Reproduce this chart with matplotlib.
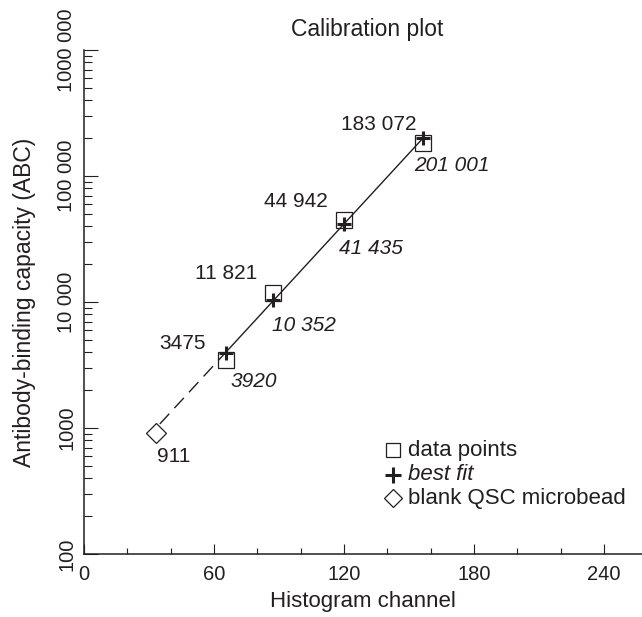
import numpy as np
import matplotlib.pyplot as plt
from matplotlib.ticker import FixedLocator, MultipleLocator, NullFormatter

# values
channels = [65.3, 87.2, 120.0, 156.6]
abc_data = [3475, 11821, 44942, 183072]
abc_fit = [3920, 10352, 41435, 201001]
blank_channel = 33.2
blank_abc = 911

x_ticks = [0, 60, 120, 180, 240]
y_ticks = [100, 1000, 10000, 100000, 1000000]
y_tick_labels = ["100", "1000", "10 000", "100 000", "1000 000"]

# label offsets in pixels (dx, dy) relative to their markers
data_offsets = [(-20, 10.7), (-16, 14), (-16, 12.7), (-7, 12.7)]
fit_offsets = [(5, -34), (-1, -31.3), (-5, -30), (-9, -33.4)]
blank_offset = (1, -28.7)

INK = "#231f20"
FONT = "Liberation Sans"
PX = 0.72  # points per pixel at dpi 100

plt.rcParams["font.family"] = [FONT, "DejaVu Sans"]
plt.rcParams["text.color"] = INK


def fmt(v):
    if v >= 10000:
        return f"{v:,}".replace(",", " ")
    return str(v)


fig = plt.figure(figsize=(6.42, 6.17), dpi=100)
ax = fig.add_axes([84 / 642, 63 / 617, 558 / 642, 504 / 617])
ax.set_yscale("log")
ax.set_xlim(0, 257.5)
ax.set_ylim(100, 1000000)

# best-fit line through the fitted values, dashed extension to the blank
coef = np.polyfit(channels, np.log10(abc_fit), 1)
xs = np.array([channels[0], channels[-1]])
ax.plot(xs, 10 ** np.polyval(coef, xs), color=INK, lw=1.0, zorder=2)
xd = np.array([blank_channel + 1.8, channels[0]])
ax.plot(xd, 10 ** np.polyval(coef, xd), color=INK, lw=1.0,
        dashes=(10, 5.5), zorder=2)

ax.plot(channels, abc_data, "s", ms=11.5, mfc="none", mec=INK, mew=0.9, zorder=3)
ax.plot(channels, abc_fit, "+", ms=10.5, mec=INK, mew=2.2, zorder=4)
ax.plot([blank_channel], [blank_abc], "D", ms=10, mfc="none", mec=INK, mew=0.9, zorder=3)

for x, v, (dx, dy) in zip(channels, abc_data, data_offsets):
    ax.annotate(fmt(v), (x, v), xytext=(dx * PX, dy * PX), textcoords="offset points",
                ha="right", va="baseline", fontsize=15)
for x, v, (dx, dy) in zip(channels, abc_fit, fit_offsets):
    ax.annotate(fmt(v), (x, v), xytext=(dx * PX, dy * PX), textcoords="offset points",
                ha="left", va="baseline", fontsize=15, style="italic")
ax.annotate(fmt(blank_abc), (blank_channel, blank_abc),
            xytext=(blank_offset[0] * PX, blank_offset[1] * PX),
            textcoords="offset points", ha="left", va="baseline", fontsize=15)

# legend drawn by hand
lx, tx = 0.553, 0.581
ax.plot([lx], [0.206], "s", ms=10.5, mfc="none", mec=INK, mew=0.9, transform=ax.transAxes)
ax.plot([lx], [0.157], "+", ms=11, mec=INK, mew=2.2, transform=ax.transAxes)
ax.plot([lx], [0.111], "D", ms=9.5, mfc="none", mec=INK, mew=0.9, transform=ax.transAxes)
ax.text(tx, 0.206, "data points", transform=ax.transAxes, va="center", fontsize=16)
ax.text(tx, 0.157, "best fit", transform=ax.transAxes, va="center", fontsize=16, style="italic")
ax.text(tx, 0.111, "blank QSC microbead", transform=ax.transAxes, va="center", fontsize=16)

# axes styling
for s in ["top", "right"]:
    ax.spines[s].set_visible(False)
for s in ["left", "bottom"]:
    ax.spines[s].set_linewidth(1.1)
    ax.spines[s].set_color(INK)

ax.xaxis.set_major_locator(FixedLocator(x_ticks))
ax.xaxis.set_minor_locator(MultipleLocator(20))
ax.set_xticklabels([str(t) for t in x_ticks])
ax.yaxis.set_major_locator(FixedLocator(y_ticks))
ax.yaxis.set_minor_locator(FixedLocator(
    [m * 10 ** e for e in range(2, 6) for m in range(2, 10)]))
ax.yaxis.set_minor_formatter(NullFormatter())
ax.set_yticklabels(y_tick_labels)

ax.tick_params(axis="x", which="major", direction="in", length=7, width=0.8,
               color=INK, labelsize=14.5, pad=8, labelcolor=INK)
ax.tick_params(axis="x", which="minor", direction="in", length=4, width=0.8, color=INK)
ax.tick_params(axis="y", which="major", direction="in", length=10, width=0.8,
               color=INK, labelsize=14.5, pad=5.5, labelcolor=INK, labelrotation=90)
ax.tick_params(axis="y", which="minor", direction="in", length=6, width=0.8, color=INK)
for lab in ax.get_yticklabels():
    lab.set_va("center")

ax.set_xlabel("Histogram channel", fontsize=16, labelpad=5, color=INK)
ax.set_ylabel("Antibody-binding capacity (ABC)", fontsize=16.5, labelpad=15.5, color=INK)
ax.set_title("Calibration plot", fontsize=16.5, pad=10, color=INK, x=(367.5 - 84) / 558)

fig.savefig("out.png", dpi=100)
